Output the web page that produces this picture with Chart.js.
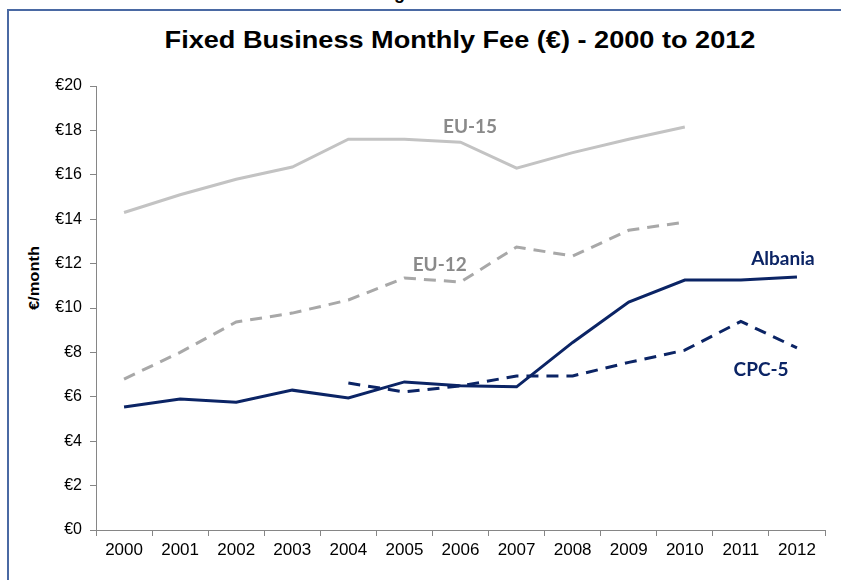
<!DOCTYPE html>
<html>
<head>
<meta charset="utf-8">
<script src="https://cdn.jsdelivr.net/npm/chart.js@4/dist/chart.umd.min.js"></script>
<style>
  body { margin: 0; background: #fff; }
  #wrap { position: relative; width: 841px; height: 580px; overflow: hidden; font-family: Arial, "Liberation Sans", sans-serif; }
  #frame { position: absolute; left: 7px; top: 9px; right: -5px; bottom: -5px; border-top: 2px solid #4a69a3; border-left: 2px solid #4a69a3; }
  #fig { position: absolute; left: 378px; top: -16px; font: bold 18px Arial, "Liberation Sans", sans-serif; line-height: 18px; color: #000; white-space: nowrap; }
  #title { position: absolute; left: 0; width: 920px; top: 25px; text-align: center; font: bold 24px Arial, "Liberation Sans", sans-serif; line-height: 30px; color: #000; transform: scaleX(1.13); transform-origin: 460px 0; }
  #ytitle { position: absolute; left: 33px; top: 278px; transform: translate(-50%, -50%) rotate(-90deg) scaleX(1.1); font: bold 15px Arial, "Liberation Sans", sans-serif; white-space: nowrap; color: #000; }
  canvas { position: absolute; left: 0; top: 0; }
</style>
</head>
<body>
<div id="wrap">
  <div id="fig">Figure 16</div>
  <div id="frame"></div>
  <div id="title">Fixed Business Monthly Fee (€) - 2000 to 2012</div>
  <div id="ytitle">€/month</div>
  <canvas id="myChart" width="841" height="580"></canvas>
</div>
<script>
const years = ['2000', '2001', '2002', '2003', '2004', '2005', '2006', '2007', '2008', '2009', '2010', '2011', '2012'];
const albania = [5.54, 5.9, 5.76, 6.3, 5.95, 6.67, 6.5, 6.45, 8.45, 10.27, 11.26, 11.26, 11.4];
const cpc5 = [null, null, null, null, 6.62, 6.22, 6.49, 6.94, 6.94, 7.55, 8.1, 9.4, 8.2];
const eu12 = [6.8, 8.0, 9.37, 9.77, 10.36, 11.35, 11.17, 12.75, 12.34, 13.5, 13.87, null, null];
const eu15 = [14.3, 15.1, 15.8, 16.35, 17.6, 17.6, 17.47, 16.3, 17.0, 17.6, 18.15, null, null];

// series names written next to the lines: [text, category position, value]
const seriesLabels = [
  ['EU-15', 6.17, 18.15],
  ['EU-12', 5.63, 11.94],
  ['Albania', 11.75, 12.2],
  ['CPC-5', 11.36, 7.2]
];

const navy = '#0b2465';
const labelColors = { 'EU-15': '#8a8a8a', 'EU-12': '#8a8a8a', 'Albania': navy, 'CPC-5': navy };

const lineLabels = {
  id: 'lineLabels',
  afterDatasetsDraw(chart) {
    const ctx = chart.ctx;
    const x = chart.scales.x;
    const y = chart.scales.y;
    ctx.save();
    ctx.font = 'bold 19px Lato, "Open Sans", sans-serif';
    ctx.textAlign = 'center';
    ctx.textBaseline = 'middle';
    seriesLabels.forEach((l) => {
      ctx.fillStyle = labelColors[l[0]];
      ctx.fillText(l[0], x.getPixelForValue(l[1]), y.getPixelForValue(l[2]));
    });
    ctx.restore();
  }
};

const axisColor = '#868686';

const ctx = document.getElementById('myChart').getContext('2d');
const myChart = new Chart(ctx, {
  type: 'line',
  data: {
    labels: years,
    datasets: [{
      label: 'Albania',
      data: albania,
      borderColor: navy,
      borderWidth: 3
    },
    {
      label: 'CPC-5',
      data: cpc5,
      borderColor: navy,
      borderWidth: 3,
      borderDash: [12, 8]
    },
    {
      label: 'EU-12',
      data: eu12,
      borderColor: '#a8a8a8',
      borderWidth: 3,
      borderDash: [12, 8]
    },
    {
      label: 'EU-15',
      data: eu15,
      borderColor: '#c3c3c3',
      borderWidth: 3
    }]
  },
  options: {
    responsive: false,
    animation: false,
    layout: { padding: { top: 86, right: 16, bottom: 0, left: 0 } },
    elements: {
      point: { radius: 0, hoverRadius: 0 },
      line: { tension: 0, borderCapStyle: 'butt', fill: false }
    },
    plugins: {
      legend: { display: false },
      title: { display: false },
      tooltip: { enabled: false }
    },
    scales: {
      x: {
        type: 'category',
        offset: true,
        afterFit: (s) => { s.height = 50; },
        grid: { offset: true, drawOnChartArea: false, drawTicks: true, tickLength: 6, color: axisColor },
        border: { display: true, color: axisColor, width: 1 },
        ticks: { color: '#000', font: { family: 'Arial, "Liberation Sans", sans-serif', size: 17 }, padding: 4, maxRotation: 0, autoSkip: false }
      },
      y: {
        min: 0,
        max: 20,
        afterFit: (s) => { s.width = 96; },
        grid: { drawOnChartArea: false, drawTicks: true, tickLength: 6, color: axisColor },
        border: { display: true, color: axisColor, width: 1 },
        ticks: {
          stepSize: 2,
          color: '#000',
          padding: 8,
          font: { family: 'Arial, "Liberation Sans", sans-serif', size: 16 },
          callback: (v) => '€' + v
        }
      }
    }
  },
  plugins: [lineLabels]
});
</script>
</body>
</html>
